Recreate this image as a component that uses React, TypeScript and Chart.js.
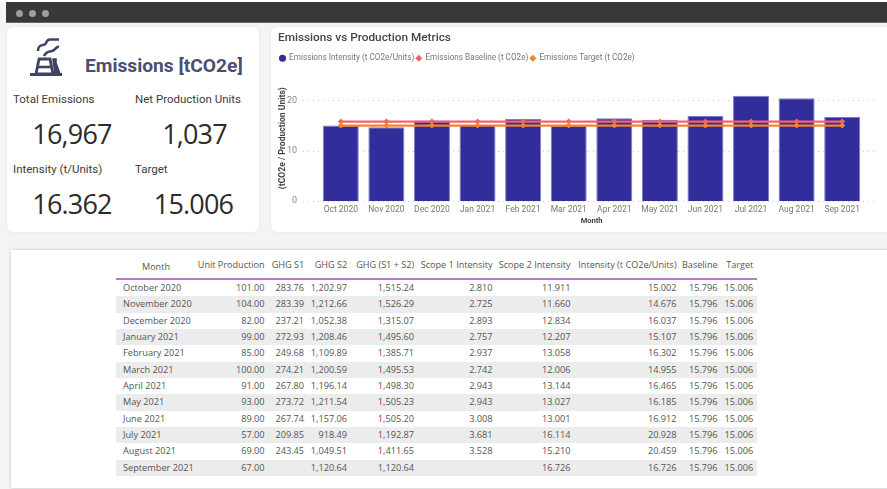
import React, { useEffect, useRef } from "react";
import { Chart, registerables } from "chart.js";

Chart.register(...registerables);

const axisMonths = ["Oct 2020","Nov 2020","Dec 2020","Jan 2021","Feb 2021","Mar 2021","Apr 2021","May 2021","Jun 2021","Jul 2021","Aug 2021","Sep 2021"];
const months = ["October 2020","November 2020","December 2020","January 2021","February 2021","March 2021","April 2021","May 2021","June 2021","July 2021","August 2021","September 2021"];
const unitProduction = [101,104,82,99,85,100,91,93,89,57,69,67];
const ghgS1 = [283.76,283.39,237.21,272.93,249.68,274.21,267.80,273.72,267.74,209.85,243.45,null];
const ghgS2 = [1202.97,1212.66,1052.38,1208.46,1109.89,1200.59,1196.14,1211.54,1157.06,918.49,1049.51,1120.64];
const ghgTotal = [1515.24,1526.29,1315.07,1495.60,1385.71,1495.53,1498.30,1505.23,1505.20,1192.87,1411.65,1120.64];
const scope1Intensity = [2.810,2.725,2.893,2.757,2.937,2.742,2.943,2.943,3.008,3.681,3.528,null];
const scope2Intensity = [11.911,11.660,12.834,12.207,13.058,12.006,13.144,13.027,13.001,16.114,15.210,16.726];
const intensity = [15.002,14.676,16.037,15.107,16.302,14.955,16.465,16.185,16.912,20.928,20.459,16.726];
const baseline = [15.796,15.796,15.796,15.796,15.796,15.796,15.796,15.796,15.796,15.796,15.796,15.796];
const target = [15.006,15.006,15.006,15.006,15.006,15.006,15.006,15.006,15.006,15.006,15.006,15.006];
const yTicks = [0,10,20];
const headers = ["Month","Unit Production","GHG S1","GHG S2","GHG (S1 + S2)","Scope 1 Intensity","Scope 2 Intensity","Intensity (t CO2e/Units)","Baseline","Target"];
const columnWidths = [80,72,39.5,43,67,78.5,78,106,41,35.7];

const sans = "Roboto, sans-serif";
const body = "'Open Sans', sans-serif";

const fmt = (v: number | null, d: number) =>
  v === null ? "" : v.toLocaleString("en-US", { minimumFractionDigits: d, maximumFractionDigits: d });

const chartExtras = {
  id: "chartExtras",
  beforeInit(chart: any) {
    const fit = chart.legend.fit;
    chart.legend.fit = function () {
      fit.call(this);
      this.height += 3;
    };
  },
  beforeDatasetsDraw(chart: any) {
    const { ctx, chartArea, scales } = chart;
    ctx.save();
    ctx.strokeStyle = "#c8c8c8";
    ctx.lineWidth = 1;
    ctx.setLineDash([1, 4]);
    scales.y.ticks.forEach((t: any) => {
      const y = Math.round(scales.y.getPixelForValue(t.value)) + 0.5;
      ctx.beginPath();
      ctx.moveTo(chartArea.left - 15, y);
      ctx.lineTo(chartArea.right + 12, y);
      ctx.stroke();
    });
    ctx.restore();
  },
};

function Card({ style, children }: any) {
  return (
    <div style={{ position: "absolute", background: "#fff", borderRadius: 7, boxShadow: "0 0 4px rgba(0,0,0,0.06)", ...style }}>
      {children}
    </div>
  );
}

function Txt({ x, y, size, color, weight, font, children, w, spacing }: any) {
  return (
    <div style={{ position: "absolute", left: x, top: y, width: w, transform: "translateY(-50%)", fontSize: size, color, fontWeight: weight, fontFamily: font, whiteSpace: "nowrap", lineHeight: 1, textAlign: w ? "center" : "left", letterSpacing: spacing }}>
      {children}
    </div>
  );
}

export default function App() {
  const ref = useRef<HTMLCanvasElement>(null);

  useEffect(() => {
    const chart = new Chart(ref.current!, {
      type: "bar",
      plugins: [chartExtras],
      data: {
        labels: axisMonths,
        datasets: [
          { type: "line", label: "Emissions Baseline (t CO2e)", data: baseline, borderColor: "#f2646c", backgroundColor: "#f2646c", borderWidth: 2.2, pointStyle: "rectRot", pointRadius: 3, pointBorderWidth: 0, pointBackgroundColor: "#f2646c", order: 2 },
          { type: "line", label: "Emissions Target (t CO2e)", data: target, borderColor: "#f0852d", backgroundColor: "#f0852d", borderWidth: 2.2, pointStyle: "rectRot", pointRadius: 3, pointBorderWidth: 0, pointBackgroundColor: "#f0852d", order: 1 },
          { type: "bar", label: "Emissions Intensity (t CO2e/Units)", data: intensity, backgroundColor: "#312e9b", borderColor: "#7d7bc6", borderWidth: 1, categoryPercentage: 1, barPercentage: 0.79, pointStyle: "circle", order: 3 },
        ] as any,
      },
      options: {
        animation: false,
        responsive: false,
        layout: { padding: { left: 7, right: 22, top: 4, bottom: 6 } },
        plugins: {
          title: { display: true, text: "Emissions vs Production Metrics", align: "start", color: "#444", font: { family: sans, size: 11.8, weight: 500 as any }, padding: { top: 0, bottom: 7 } },
          legend: {
            position: "top",
            align: "start",
            labels: {
              usePointStyle: true,
              boxWidth: 5,
              boxHeight: 5,
              padding: 2,
              color: "#777",
              font: { family: sans, size: 8.2 },
              generateLabels: (c: any) =>
                Chart.defaults.plugins.legend.labels.generateLabels(c)
                  .map((l: any) => ({ ...l, lineWidth: 0 }))
                  .sort((a: any, b: any) => [2, 0, 1].indexOf(a.datasetIndex) - [2, 0, 1].indexOf(b.datasetIndex)),
            },
          },
          tooltip: { enabled: false },
        },
        scales: {
          x: {
            grid: { display: false, drawTicks: false },
            border: { display: false },
            ticks: { color: "#777", font: { family: sans, size: 8.5 }, padding: 4, maxRotation: 0, autoSkip: false },
            title: { display: true, text: "Month", color: "#444", font: { family: sans, size: 7.5, weight: "bold" }, padding: 0 },
            afterFit: (s: any) => { s.height = 25; },
          },
          y: {
            min: 0,
            max: 25,
            grid: { display: false, drawTicks: false },
            border: { display: false },
            afterBuildTicks: (s: any) => { s.ticks = yTicks.map((value) => ({ value })); },
            ticks: { color: "#888", font: { family: sans, size: 9 }, padding: 21 },
            title: { display: true, text: "(tCO2e / Production Units)", color: "#444", font: { family: sans, size: 8.6, weight: "bold" }, padding: 0 },
            afterFit: (s: any) => { s.width = 40; },
          },
        },
      },
    });
    return () => chart.destroy();
  }, []);

  const cellBase: any = { padding: "0 3.4px 0 0", textAlign: "right", overflow: "hidden", whiteSpace: "nowrap", height: 16.33, lineHeight: "16.33px", boxSizing: "border-box" };

  return (
    <div style={{ position: "fixed", left: 0, top: 0, width: 887, height: 489, background: "#f4f4f5", overflow: "hidden", filter: "blur(0.5px)" }}>
      <div style={{ position: "absolute", left: 0, top: 0, width: 887, height: 2, background: "#fff" }} />
      <div style={{ position: "absolute", left: 6, top: 2, width: 881, height: 20, background: "#37383a", borderBottom: "1px solid #666" }} />
      {[15, 28, 41].map((x) => (
        <div key={x} style={{ position: "absolute", left: x + 0.5, top: 9.5, width: 7, height: 7, borderRadius: 4, background: "#9d9ea0" }} />
      ))}

      <Card style={{ left: 7, top: 27, width: 252, height: 205 }} />
      <svg style={{ position: "absolute", left: 29, top: 37 }} width="35" height="40" viewBox="0 0 35 40" fill="none" stroke="#3f4464" strokeWidth="2.6">
        <path d="M30 2.5 H21 C16 2.5 19 7.5 14 8 C10 8.5 9 10 9 14" />
        <path d="M30 10 C27 9 27 13 23 14 C19 15 17 15 15 19" />
        <path d="M1 37.5 H33" strokeWidth="3" />
        <path d="M7 37 L10 22 H21 L24 37 Z" strokeWidth="2.8" />
        <path d="M8 30 H23" />
        <path d="M24 22 H27 V26 L31 37 H26 Z" fill="#3f4464" strokeWidth="1.6" />
      </svg>
      <Txt x={85} y={66} size={19.2} color="#4a4f72" weight={700} font={sans}>Emissions [tCO2e]</Txt>
      <Txt x={13} y={99.5} size={11.5} color="#3c3c3c" weight={400} font={sans}>Total Emissions</Txt>
      <Txt x={135} y={100} size={11.5} color="#3c3c3c" weight={400} font={sans}>Net Production Units</Txt>
      <Txt x={13} y={170} size={11.5} color="#3c3c3c" weight={400} font={sans}>Intensity (t/Units)</Txt>
      <Txt x={135} y={170} size={11.5} color="#3c3c3c" weight={400} font={sans}>Target</Txt>
      <Txt x={12} w={120} y={133} size={27} color="#2c2c2c" weight={400} font={body} spacing={-0.8}>16,967</Txt>
      <Txt x={134.5} w={120} y={133} size={27} color="#2c2c2c" weight={400} font={body} spacing={-0.8}>1,037</Txt>
      <Txt x={12} w={120} y={203} size={27} color="#2c2c2c" weight={400} font={body} spacing={-0.8}>16.362</Txt>
      <Txt x={133.5} w={120} y={203} size={27} color="#2c2c2c" weight={400} font={body} spacing={-0.8}>15.006</Txt>

      <Card style={{ left: 271, top: 27, width: 625, height: 205 }}>
        <canvas ref={ref} width={616} height={205} style={{ display: "block", width: 616, height: 205 }} />
      </Card>

      <div style={{ position: "absolute", left: 11, top: 250, width: 890, height: 238, background: "#fff", boxShadow: "0 0 3px rgba(0,0,0,0.22)" }} />
      <table style={{ position: "absolute", left: 116, top: 255, width: 640.7, tableLayout: "fixed", borderCollapse: "collapse", fontFamily: body, fontSize: 9.2, color: "#555" }}>
        <colgroup>{columnWidths.map((w, i) => <col key={i} style={{ width: w }} />)}</colgroup>
        <thead>
          <tr style={{ borderBottom: "2px solid #b978c8" }}>
            {headers.map((h, i) => (
              <th key={h} style={{ ...cellBase, height: 23, lineHeight: "20px", fontWeight: 400, textAlign: i === 0 ? "center" : "right", padding: i === 0 ? 0 : "0 3.4px 3px 0", fontSize: 9.1 }}>{h}</th>
            ))}
          </tr>
        </thead>
        <tbody>
          {months.map((m, i) => (
            <tr key={m} style={{ background: i % 2 ? "#ececec" : "#fff" }}>
              <td style={{ ...cellBase, textAlign: "left", paddingLeft: 7 }}>{m}</td>
              <td style={cellBase}>{fmt(unitProduction[i], 2)}</td>
              <td style={cellBase}>{fmt(ghgS1[i], 2)}</td>
              <td style={cellBase}>{fmt(ghgS2[i], 2)}</td>
              <td style={cellBase}>{fmt(ghgTotal[i], 2)}</td>
              <td style={cellBase}>{fmt(scope1Intensity[i], 3)}</td>
              <td style={cellBase}>{fmt(scope2Intensity[i], 3)}</td>
              <td style={cellBase}>{fmt(intensity[i], 3)}</td>
              <td style={cellBase}>{fmt(baseline[i], 3)}</td>
              <td style={cellBase}>{fmt(target[i], 3)}</td>
            </tr>
          ))}
        </tbody>
      </table>
    </div>
  );
}
